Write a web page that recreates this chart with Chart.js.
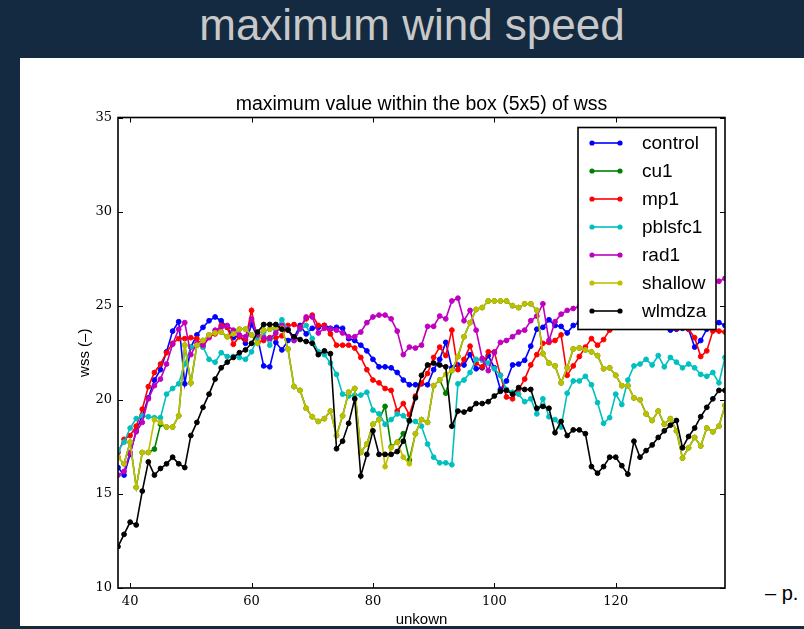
<!DOCTYPE html>
<html>
<head>
<meta charset="utf-8">
<script src="https://cdn.jsdelivr.net/npm/chart.js@4.4.1/dist/chart.umd.min.js"></script>
<style>
  html, body { margin: 0; padding: 0; }
  body { width: 804px; height: 629px; background: #142a41; position: relative; overflow: hidden;
         font-family: "Liberation Sans", Arial, sans-serif; }
  #head { position: absolute; left: 20px; top: 0; width: 784px; text-align: center; color: #c8c8c8;
          font-size: 44px; line-height: 50px; }
  #panel { position: absolute; left: 20px; top: 58px; width: 784px; height: 568px; background: #fff; }
  #page { position: absolute; left: 765px; top: 583px; font-size: 20px; line-height: 20px; color: #000; white-space: nowrap; }
  canvas { position: absolute; left: 0; top: 0; }
</style>
</head>
<body>
<div id="head">maximum wind speed</div>
<div id="panel"></div>
<div id="page">– p.</div>
<canvas id="chart" width="804" height="629"></canvas>
<script>
// x positions: one sample per step from 38 to 138
const steps = Array.from({length: 101}, (_, i) => 38 + i);
const xTicks = [40, 60, 80, 100, 120];
const yTicks = [10, 15, 20, 25, 30, 35];

const names = ['control', 'cu1', 'mp1', 'pblsfc1', 'rad1', 'shallow', 'wlmdza'];
const colors = ['#0000ff', '#008000', '#ff0000', '#00bfbf', '#bf00bf', '#bfbf00', '#000000'];

const control = [
  16.4, 16.0, 17.1, 18.35, 19.15, 20.1, 21.05, 21.6, 22.55, 23.65, 24.15, 20.85, 22.8, 23.45, 23.85, 24.2, 24.4, 24.2, 23.85, 23.3, 23.4, 23.0, 24.0, 23.3, 21.8,
  21.75, 23.05, 22.65, 23.15, 23.3, 23.95, 23.5, 23.8, 23.85, 23.95, 23.8, 23.85, 23.8, 23.25, 23.15, 22.9, 22.6, 22.15, 21.75, 21.75, 21.7, 21.45, 21.05, 20.8, 20.8,
  20.85, 20.8, 21.6, 22.15, 23.05, 21.7, 21.85, 21.85, 22.4, 21.65, 21.7, 22.35, 21.7, 20.55, 21.0, 21.85, 21.9, 22.1, 22.85, 23.75, 23.85, 24.25, 23.95, 23.9, 23.55,
  23.95, 24.1, 24.2, 24.0, 24.3, 24.2, 24.4, 24.1, 24.3, 24.5, 24.2, 24.0, 24.3, 24.4, 24.1, 23.9, 23.7, 23.75, 23.8, 23.75, 22.8, 23.15, 23.75, 23.95, 24.1, 23.95
];
const cu1 = [
  16.95, 16.6, 17.75, 15.35, 17.2, 17.2, 17.38, 18.7, 18.55, 18.55, 19.15, 22.9, 20.9, 22.9, 23.15, 23.45, 23.55, 23.6, 23.35, 23.5, 23.75, 23.75, 23.45, 23.0, 23.7,
  23.75, 23.85, 23.8, 22.7, 20.7, 20.5, 19.55, 19.1, 18.85, 19.0, 19.4, 18.1, 19.15, 20.4, 20.6, 17.2, 17.65, 18.7, 18.95, 19.65, 17.5, 17.75, 18.2, 16.8, 18.2,
  18.95, 18.8, 20.75, 21.05, 20.35, 21.55, 22.3, 23.35, 24.1, 24.8, 24.9, 25.25, 25.25, 25.25, 25.25, 25.0, 24.9, 25.1, 25.1, 24.75, 22.45, 21.95, 21.8, 20.9, 21.7,
  22.7, 22.75, 22.65, 22.55, 22.35, 21.65, 21.7, 21.3, 20.75, 20.75, 20.1, 20.0, 19.25, 18.9, 19.4, 18.7, 19.0, 18.35, 16.9, 17.45, 18.0, 17.55, 18.5, 18.3, 18.6, 19.7
];
const mp1 = [
  17.2, 17.9, 18.1, 18.6, 19.5, 20.7, 21.45, 21.9, 22.5, 23.0, 23.25, 23.25, 23.3, 23.25, 22.8, 23.35, 23.5, 23.95, 23.85, 22.95, 23.35, 23.2, 24.75, 23.05, 23.15,
  23.3, 23.3, 23.4, 23.95, 24.0, 23.85, 24.3, 24.5, 23.95, 23.95, 23.5, 22.9, 22.9, 22.9, 22.75, 22.25, 21.6, 21.05, 20.9, 20.6, 20.5, 19.4, 19.8, 19.2, 20.2,
  20.9, 21.4, 22.25, 22.8, 22.35, 23.7, 21.6, 22.15, 22.85, 21.95, 21.75, 22.55, 22.55, 21.3, 20.15, 20.05, 20.55, 21.1, 21.85, 22.4, 23.0, 23.05, 23.15, 23.45, 21.3,
  21.8, 22.3, 22.8, 23.25, 22.9, 23.2, 23.7, 23.9, 24.1, 24.0, 24.2, 24.1, 23.9, 24.0, 24.2, 24.0, 23.85, 23.8, 23.9, 23.75, 23.3, 22.3, 22.6, 23.65, 23.65, 23.6
];
const pblsfc1 = [
  17.3, 17.75, 18.5, 19.0, 19.15, 19.1, 19.05, 19.05, 20.3, 20.6, 20.85, 21.9, 22.8, 22.9, 22.8, 22.15, 22.0, 22.5, 22.3, 22.3, 22.25, 22.15, 22.55, 23.3, 23.6,
  22.9, 23.75, 24.25, 23.75, 23.15, 23.75, 23.95, 23.25, 22.55, 22.4, 21.95, 21.35, 20.3, 20.2, 20.25, 20.25, 20.4, 19.45, 19.25, 18.7, 18.95, 19.25, 19.15, 18.85, 18.85,
  18.6, 17.65, 16.95, 16.65, 16.65, 16.55, 20.85, 21.05, 21.45, 22.15, 22.1, 21.95, 21.65, 21.3, 20.55, 20.4, 20.3, 19.9, 20.05, 19.25, 20.05, 19.1, 18.95, 18.55, 20.35,
  21.0, 21.0, 21.25, 20.8, 19.85, 18.75, 19.05, 20.3, 19.75, 21.05, 21.8, 21.9, 22.15, 21.85, 22.35, 21.75, 22.25, 22.0, 21.7, 21.9, 21.7, 21.35, 21.25, 21.45, 20.9, 22.25
];
const rad1 = [
  16.0, 16.2, 17.2, 18.3, 18.8, 20.05, 20.75, 21.1, 21.9, 22.95, 23.75, 24.1, 22.4, 23.0, 22.9, 23.3, 23.7, 23.85, 23.95, 23.7, 23.45, 23.35, 24.3, 23.45, 23.3,
  23.25, 23.55, 23.95, 23.75, 23.15, 23.8, 24.4, 24.4, 23.55, 23.8, 23.75, 23.7, 23.55, 23.35, 23.35, 23.6, 24.1, 24.4, 24.5, 24.5, 24.3, 23.65, 22.4, 22.8, 22.75,
  22.9, 23.9, 23.9, 24.45, 24.3, 25.25, 25.4, 24.2, 24.75, 23.7, 22.2, 21.55, 22.5, 23.05, 23.15, 23.35, 23.6, 23.7, 24.2, 24.45, 25.1, 23.15, 24.15, 24.55, 24.75,
  24.85, 24.95, 25.05, 25.1, 25.25, 25.3, 25.4, 25.35, 25.5, 25.6, 25.55, 25.7, 25.75, 25.8, 25.9, 25.85, 26.0, 26.05, 26.1, 26.0, 26.15, 26.2, 26.25, 26.2, 26.3, 26.45
];
const shallow = [
  16.95, 16.6, 17.75, 15.35, 17.2, 17.2, 18.94, 18.8, 18.55, 18.55, 19.15, 22.9, 20.9, 22.9, 23.15, 23.45, 23.55, 23.6, 23.35, 23.5, 23.75, 23.75, 23.45, 23.0, 23.7,
  23.75, 23.85, 23.8, 22.7, 20.7, 20.5, 19.55, 19.1, 18.85, 19.0, 19.4, 18.1, 19.15, 20.4, 20.6, 17.2, 17.65, 18.7, 18.95, 16.45, 17.45, 17.75, 16.95, 16.6, 18.2,
  18.95, 18.8, 20.75, 21.05, 21.35, 21.55, 22.3, 23.35, 24.1, 24.8, 24.9, 25.25, 25.25, 25.25, 25.25, 25.0, 24.9, 25.1, 25.1, 24.75, 22.45, 21.95, 21.8, 20.9, 21.7,
  22.7, 22.75, 22.65, 22.55, 22.35, 21.65, 21.7, 21.3, 20.75, 20.75, 20.1, 20.0, 19.25, 18.9, 19.4, 18.7, 19.0, 18.35, 16.9, 17.45, 18.0, 17.55, 18.5, 18.3, 18.6, 19.7
];
const wlmdza = [
  12.2, 12.85, 13.5, 13.35, 15.15, 16.7, 16.0, 16.35, 16.6, 16.95, 16.6, 16.4, 18.1, 18.8, 19.6, 20.3, 21.1, 21.7, 22.0, 22.25, 22.5, 22.65, 23.0, 23.6, 24.0,
  24.0, 24.0, 23.75, 23.7, 23.35, 23.2, 23.1, 23.0, 22.4, 22.6, 22.45, 17.4, 17.8, 18.75, 20.05, 15.95, 17.1, 18.35, 17.1, 17.1, 17.1, 17.25, 17.8, 18.9, 20.1,
  21.3, 21.85, 21.95, 21.85, 21.75, 18.6, 19.4, 19.35, 19.5, 19.8, 19.8, 19.9, 20.2, 20.45, 20.5, 20.3, 20.65, 20.55, 20.55, 19.55, 19.65, 19.55, 18.25, 18.85, 18.1,
  18.4, 18.4, 18.2, 16.45, 16.1, 16.45, 16.95, 16.95, 16.5, 16.05, 17.8, 16.95, 17.3, 17.6, 18.0, 18.35, 18.65, 18.9, 17.45, 18.05, 18.5, 19.1, 19.6, 20.05, 20.5, 20.5
];
const series = [control, cu1, mp1, pblsfc1, rad1, shallow, wlmdza];

const sans = '"Liberation Sans", Arial, sans-serif';
const serif = '"DejaVu Serif", serif';

// matplotlib-like frame, inward ticks, boxed legend and subtitle
const framePlugin = {
  id: 'frame',
  afterDatasetsDraw(chart) {
    const {ctx, chartArea: a, scales: {x, y}} = chart;
    ctx.save();
    ctx.strokeStyle = '#000';
    ctx.lineWidth = 1;
    ctx.beginPath();
    xTicks.forEach(v => {
      const px = Math.round(x.getPixelForValue(v)) + 0.5;
      ctx.moveTo(px, a.bottom); ctx.lineTo(px, a.bottom - 5);
      ctx.moveTo(px, a.top); ctx.lineTo(px, a.top + 5);
    });
    yTicks.forEach(v => {
      const py = Math.round(y.getPixelForValue(v)) + 0.5;
      ctx.moveTo(a.left, py); ctx.lineTo(a.left + 5, py);
      ctx.moveTo(a.right, py); ctx.lineTo(a.right - 5, py);
    });
    ctx.stroke();
    ctx.lineWidth = 1.6;
    ctx.strokeRect(a.left, a.top, a.right - a.left, a.bottom - a.top);

    // legend
    const bw = 138, bh = 202;
    const bx = a.right - 9 - bw, by = a.top + 10;
    ctx.fillStyle = '#fff';
    ctx.fillRect(bx, by, bw, bh);
    ctx.lineWidth = 1.6;
    ctx.strokeRect(bx, by, bw, bh);
    ctx.font = '19px ' + sans;
    ctx.textBaseline = 'middle';
    ctx.textAlign = 'left';
    names.forEach((n, i) => {
      const ry = by + 15.5 + i * 28;
      ctx.strokeStyle = colors[i];
      ctx.fillStyle = colors[i];
      ctx.lineWidth = 1.6;
      ctx.beginPath();
      ctx.moveTo(bx + 14, ry); ctx.lineTo(bx + 42, ry);
      ctx.stroke();
      [bx + 14, bx + 42].forEach(px => {
        ctx.beginPath(); ctx.arc(px, ry, 2.6, 0, Math.PI * 2); ctx.fill();
      });
      ctx.fillStyle = '#000';
      ctx.fillText(n, bx + 64, ry + 1);
    });

    // subtitle
    ctx.font = '19.5px ' + sans;
    ctx.textAlign = 'center';
    ctx.textBaseline = 'alphabetic';
    ctx.fillStyle = '#000';
    ctx.fillText('maximum value within the box (5x5) of wss', (a.left + a.right) / 2, a.top - 8);
    ctx.restore();
  }
};

new Chart(document.getElementById('chart'), {
  type: 'line',
  data: {
    datasets: names.map((n, i) => ({
      label: n,
      data: series[i].map((v, k) => ({x: steps[k], y: v})),
      borderColor: colors[i],
      backgroundColor: colors[i],
      pointBackgroundColor: colors[i],
      pointBorderColor: colors[i],
      borderWidth: 1.6,
      pointRadius: 2.4,
      pointBorderWidth: 1,
      tension: 0,
      fill: false,
      order: names.length - i
    }))
  },
  options: {
    responsive: false,
    animation: false,
    devicePixelRatio: 1,
    layout: {padding: {left: 0, top: 117.5, right: 79, bottom: 0}},
    plugins: {legend: {display: false}, tooltip: {enabled: false}},
    scales: {
      x: {
        type: 'linear', min: 38, max: 138,
        grid: {display: false, drawTicks: false},
        border: {display: false},
        afterBuildTicks: s => { s.ticks = xTicks.map(v => ({value: v})); },
        afterFit: s => { s.height = 41; },
        ticks: {padding: 6, maxRotation: 0, color: '#000', font: {family: serif, size: 13}},
        title: {display: true, text: 'unkown', color: '#000', font: {family: sans, size: 15}, padding: 0}
      },
      y: {
        min: 10, max: 35,
        grid: {display: false, drawTicks: false},
        border: {display: false},
        afterBuildTicks: s => { s.ticks = yTicks.map(v => ({value: v})); },
        afterFit: s => { s.width = 118; },
        ticks: {padding: 6, color: '#000', font: {family: serif, size: 13}},
        title: {display: true, text: 'wss (–)', color: '#000', font: {family: sans, size: 15}, padding: {top: 76, bottom: 0}}
      }
    }
  },
  plugins: [framePlugin]
});
</script>
</body>
</html>
